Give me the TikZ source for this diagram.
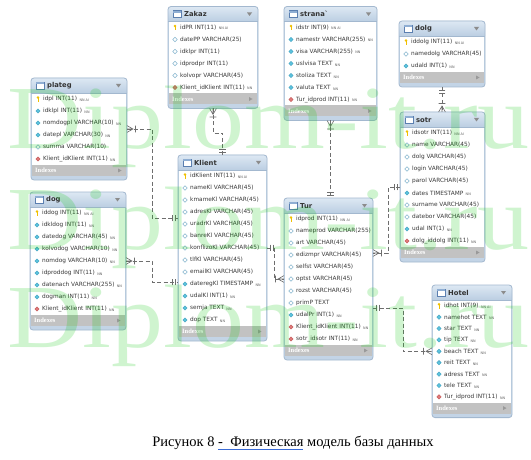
\documentclass[tikz,border=0pt]{standalone}
\usepackage{fontspec}
\setmainfont{Liberation Serif}
\newfontfamily\tabfont{DejaVu Sans}
\usetikzlibrary{calc}

\definecolor{tborder}{HTML}{A3B8CF}
\definecolor{ttop}{HTML}{DDE8F3}
\definecolor{tbot}{HTML}{BBCEE2}
\definecolor{tstrip}{HTML}{C3D4E6}
\definecolor{tidx}{HTML}{C2C2C2}
\definecolor{ttext}{HTML}{3A3A3A}
\definecolor{conncol}{HTML}{6E6E6E}
\definecolor{nnfill}{HTML}{5CC3DD}
\definecolor{nnline}{HTML}{3E9FBF}
\definecolor{colline}{HTML}{86B6CF}
\definecolor{fkfill}{HTML}{E07A7A}
\definecolor{fkline}{HTML}{C05050}
\definecolor{keycol}{HTML}{F0C000}
\definecolor{iconblue}{HTML}{5B7FB0}
\definecolor{iconhead}{HTML}{8FAED3}
\definecolor{wmark}{HTML}{00C800}
\definecolor{caplink}{HTML}{3A6BD6}

\newsavebox\capbox
\newcommand\capul[1]{\sbox\capbox{#1}\rlap{\color{caplink}\rule[-2.8pt]{\wd\capbox}{0.8pt}}\usebox\capbox}

\tikzset{
  rowtxt/.style={font=\tabfont\fontsize{5.8}{6}\selectfont, text=ttext, inner sep=0pt, anchor=west},
  sfx/.style={font=\tabfont\fontsize{3.4}{4}\selectfont, text=ttext!80, inner sep=0pt, anchor=base west, xshift=2pt, yshift=-0.6pt},
  ttl/.style={font=\tabfont\bfseries\fontsize{6.8}{7}\selectfont, text=black!80, inner sep=0pt, anchor=west},
  idxtxt/.style={font=\bfseries\fontsize{6.5}{7}\selectfont, text=white, inner sep=0pt, anchor=west},
  conn/.style={draw=conncol, line width=0.6pt, dash pattern=on 4pt off 2.5pt},
  wm/.style={font=\fontsize{90}{90}\selectfont, text=wmark, text opacity=0.19, inner sep=0pt, xscale=1.155, anchor=base west},
  capfont/.style={font=\fontsize{14.5}{16}\selectfont, text=black, inner sep=0pt},
  pics/crowf/.style={code={\draw[conncol, line width=0.6pt] (0,-3.4) -- (6,0) -- (0,3.4) (0,0) -- (6,0) (8.5,-3.4) -- (8.5,3.4);}},
  pics/onebar/.style={code={\draw[conncol, line width=0.6pt] (3,-3.4) -- (3,3.4) (6,-3.4) -- (6,3.4);}},
  pics/ikey/.style={code={\fill[keycol] (0,-1.5) circle (1.4); \draw[keycol, line width=0.9pt] (0,-1) -- (0,2.8);}},
  pics/icol/.style={code={\draw[colline, fill=white, line width=0.5pt] (-2.2,0) -- (0,-2.2) -- (2.2,0) -- (0,2.2) -- cycle;}},
  pics/inn/.style={code={\draw[nnline, fill=nnfill, line width=0.4pt] (-2.2,0) -- (0,-2.2) -- (2.2,0) -- (0,2.2) -- cycle;}},
  pics/ifk/.style={code={\draw[fkline, fill=fkfill, line width=0.4pt] (-2.2,0) -- (0,-2.2) -- (2.2,0) -- (0,2.2) -- cycle;}},
}

% name, left, top, width, nrows, rowheight, title
\newcommand\dbtable[7]{%
  \pgfmathsetmacro\dbH{30+#5*#6}%
  \pgfmathsetmacro\dbRE{#3+15+#5*#6}%
  \expandafter\xdef\csname dbrh@#1\endcsname{#6}%
  \node[draw=none, inner sep=0pt, outer sep=0pt, minimum width=#4, minimum height=\dbH, anchor=north west] (#1) at (#2,#3) {};
  \fill[tstrip, rounded corners=3pt] (#2,#3) rectangle ++(#4,\dbH);
  \shade[top color=ttop, bottom color=tbot] ({#2},{#3+15}) [rounded corners=3pt] -- (#2,#3) -- ({#2+#4},#3) [sharp corners] -- ({#2+#4},{#3+15}) -- cycle;
  \fill[white] ({#2+0.6},{#3+15}) rectangle ({#2+#4-0.6},\dbRE);
  \fill[tidx] ({#2+0.6},\dbRE) rectangle ({#2+#4-0.6},{\dbRE+11});
  \draw[tborder, line width=0.8pt, rounded corners=3pt] (#2,#3) rectangle ++(#4,\dbH);
  \draw[tborder, line width=0.5pt] ({#2},{#3+15}) -- ++(#4,0);
  \draw[iconblue, fill=white, line width=0.5pt] ({#2+5},{#3+4}) rectangle ++(8,7);
  \fill[iconhead] ({#2+5.3},{#3+4.3}) rectangle ++(7.4,2);
  \node[ttl] (#1-title) at ({#2+16},{#3+7.8}) {#7};
  \fill[black!45] ({#2+#4-11},{#3+6}) -- ++(5,0) -- ++(-2.5,3.5) -- cycle;
  \node[idxtxt] (#1-idx) at ({#2+4},{\dbRE+5.5}) {Indexes};
  \fill[black!40] ({#2+#4-9},{\dbRE+3.5}) -- ++(0,4) -- ++(3.5,-2) -- cycle;
  \coordinate (#1-r0) at ({#2},{#3+15});
}
% table, index, icon, text, suffix
\newcommand\dbrow[5]{%
  \pgfmathsetmacro\dbY{(#2-0.5)*\csname dbrh@#1\endcsname}%
  \coordinate (#1-i#2) at ($(#1-r0)+(7,\dbY)$);
  \pic at (#1-i#2) {#3};
  \node[rowtxt] (#1-t#2) at ($(#1-i#2)+(5,0)$) {#4};
  \node[sfx] (#1-s#2) at (#1-t#2.base east) {#5};
}

\begin{document}
\begin{tikzpicture}[x=1pt, y=-1pt]
\useasboundingbox (0,0) rectangle (531,460);
\fill[white] (0,0) rectangle (531,460);

% ---------- Zakaz
\dbtable{Zakaz}{168}{6.5}{90}{6}{12}{Zakaz}
\dbrow{Zakaz}{1}{ikey}{idPR INT(11)}{NN AI}
\dbrow{Zakaz}{2}{icol}{datePP VARCHAR(25)}{}
\dbrow{Zakaz}{3}{icol}{idklpr INT(11)}{}
\dbrow{Zakaz}{4}{icol}{idprodpr INT(11)}{}
\dbrow{Zakaz}{5}{icol}{kolvopr VARCHAR(45)}{}
\dbrow{Zakaz}{6}{ifk}{Klient\_idKlient INT(11)}{NN}

% ---------- strana
\dbtable{strana}{284}{6.5}{93}{7}{12}{strana`}
\dbrow{strana}{1}{ikey}{idstr INT(9)}{NN AI}
\dbrow{strana}{2}{inn}{namestr VARCHAR(255)}{NN}
\dbrow{strana}{3}{inn}{visa VARCHAR(255)}{NN}
\dbrow{strana}{4}{inn}{uslvisa TEXT}{NN}
\dbrow{strana}{5}{inn}{stoliza TEXT}{NN}
\dbrow{strana}{6}{inn}{valuta TEXT}{NN}
\dbrow{strana}{7}{ifk}{Tur\_idprod INT(11)}{NN}

% ---------- dolg
\dbtable{dolg}{399}{21}{86}{3}{12}{dolg}
\dbrow{dolg}{1}{ikey}{iddolg INT(11)}{NN AI}
\dbrow{dolg}{2}{icol}{namedolg VARCHAR(45)}{}
\dbrow{dolg}{3}{inn}{udald INT(1)}{NN}

% ---------- plateg
\dbtable{plateg}{31}{78}{96}{6}{12}{plateg}
\dbrow{plateg}{1}{ikey}{idpl INT(11)}{NN AI}
\dbrow{plateg}{2}{inn}{idklpl INT(11)}{NN}
\dbrow{plateg}{3}{inn}{nomdogpl VARCHAR(10)}{NN}
\dbrow{plateg}{4}{inn}{datepl VARCHAR(30)}{NN}
\dbrow{plateg}{5}{icol}{summa VARCHAR(10)}{}
\dbrow{plateg}{6}{ifk}{Klient\_idKlient INT(11)}{NN}

% ---------- Klient
\dbtable{Klient}{178}{155}{89}{13}{12}{Klient}
\dbrow{Klient}{1}{ikey}{idKlient INT(11)}{NN AI}
\dbrow{Klient}{2}{icol}{nameKl VARCHAR(45)}{}
\dbrow{Klient}{3}{icol}{kmameKl VARCHAR(45)}{}
\dbrow{Klient}{4}{icol}{adresKl VARCHAR(45)}{}
\dbrow{Klient}{5}{icol}{uradrKl VARCHAR(45)}{}
\dbrow{Klient}{6}{icol}{banreKl VARCHAR(45)}{}
\dbrow{Klient}{7}{icol}{konflizoKl VARCHAR(45)}{}
\dbrow{Klient}{8}{icol}{tlfKl VARCHAR(45)}{}
\dbrow{Klient}{9}{icol}{emailKl VARCHAR(45)}{}
\dbrow{Klient}{10}{inn}{dateregKl TIMESTAMP}{NN}
\dbrow{Klient}{11}{inn}{udalKl INT(1)}{NN}
\dbrow{Klient}{12}{inn}{semja TEXT}{NN}
\dbrow{Klient}{13}{inn}{dop TEXT}{NN}

% ---------- sotr
\dbtable{sotr}{400}{112}{85}{10}{12}{sotr}
\dbrow{sotr}{1}{ikey}{idsotr INT(11)}{NN AI}
\dbrow{sotr}{2}{icol}{name VARCHAR(45)}{}
\dbrow{sotr}{3}{icol}{dolg VARCHAR(45)}{}
\dbrow{sotr}{4}{icol}{login VARCHAR(45)}{}
\dbrow{sotr}{5}{icol}{parol VARCHAR(45)}{}
\dbrow{sotr}{6}{inn}{dates TIMESTAMP}{NN}
\dbrow{sotr}{7}{icol}{surname VARCHAR(45)}{}
\dbrow{sotr}{8}{icol}{datebor VARCHAR(45)}{}
\dbrow{sotr}{9}{inn}{udal INT(1)}{NN}
\dbrow{sotr}{10}{ifk}{dolg\_iddolg INT(11)}{NN}

% ---------- dog
\dbtable{dog}{30}{192}{96}{9}{12}{dog}
\dbrow{dog}{1}{ikey}{iddog INT(11)}{NN AI}
\dbrow{dog}{2}{inn}{idkldog INT(11)}{NN}
\dbrow{dog}{3}{inn}{datedog VARCHAR(45)}{NN}
\dbrow{dog}{4}{inn}{kolvodog VARCHAR(10)}{NN}
\dbrow{dog}{5}{inn}{nomdog VARCHAR(10)}{NN}
\dbrow{dog}{6}{inn}{idproddog INT(11)}{NN}
\dbrow{dog}{7}{inn}{datenach VARCHAR(255)}{NN}
\dbrow{dog}{8}{inn}{dogman INT(11)}{NN}
\dbrow{dog}{9}{ifk}{Klient\_idKlient INT(11)}{NN}

% ---------- Tur
\dbtable{Tur}{284}{198}{89}{11}{12}{Tur}
\dbrow{Tur}{1}{ikey}{idprod INT(11)}{NN AI}
\dbrow{Tur}{2}{icol}{nameprod VARCHAR(255)}{}
\dbrow{Tur}{3}{icol}{art VARCHAR(45)}{}
\dbrow{Tur}{4}{icol}{edizmpr VARCHAR(45)}{}
\dbrow{Tur}{5}{icol}{selfst VARCHAR(45)}{}
\dbrow{Tur}{6}{icol}{optst VARCHAR(45)}{}
\dbrow{Tur}{7}{icol}{rozst VARCHAR(45)}{}
\dbrow{Tur}{8}{icol}{primP TEXT}{}
\dbrow{Tur}{9}{inn}{udalPr INT(1)}{NN}
\dbrow{Tur}{10}{ifk}{Klient\_idKlient INT(11)}{NN}
\dbrow{Tur}{11}{ifk}{sotr\_idsotr INT(11)}{NN}

% ---------- Hotel
\dbtable{Hotel}{432}{285}{80}{9}{11.4}{Hotel}
\dbrow{Hotel}{1}{ikey}{idhot INT(9)}{NN AI}
\dbrow{Hotel}{2}{inn}{namehot TEXT}{NN}
\dbrow{Hotel}{3}{inn}{star TEXT}{NN}
\dbrow{Hotel}{4}{inn}{tip TEXT}{NN}
\dbrow{Hotel}{5}{inn}{beach TEXT}{NN}
\dbrow{Hotel}{6}{inn}{reit TEXT}{NN}
\dbrow{Hotel}{7}{inn}{adress TEXT}{NN}
\dbrow{Hotel}{8}{inn}{tele TEXT}{NN}
\dbrow{Hotel}{9}{ifk}{Tur\_idprod INT(11)}{NN}

% ---------- connectors
\draw[conn] (Zakaz.south) |- ($(Klient.north)+(0,-22)$) -- (Klient.north);
\pic[rotate=-90] at (Zakaz.south) {crowf};
\pic[rotate=90] at (Klient.north) {onebar};

\coordinate (kpl) at ($(Klient.north west)+(0,63)$);
\draw[conn] (plateg.east) -- ++(25,0) |- (kpl);
\pic at (plateg.east) {crowf};
\pic[rotate=180] at (kpl) {onebar};

\coordinate (kdg) at ($(Klient.north west)+(0,127)$);
\draw[conn] (dog.east) -- ++(26,0) |- (kdg);
\pic at (dog.east) {crowf};
\pic[rotate=180] at (kdg) {onebar};

\draw[conn] (Klient.east) -- ++(7,0) |- (Tur.west);
\pic at (Klient.east) {onebar};
\pic[rotate=180] at (Tur.west) {crowf};

\coordinate (tst) at (strana.south |- Tur.north);
\draw[conn] (strana.south) -- (tst);
\pic[rotate=-90] at (strana.south) {crowf};
\pic[rotate=90] at (tst) {onebar};

\coordinate (tso) at ($(Tur.north east)+(0,55)$);
\draw[conn] (sotr.west) -- ++(-12,0) |- (tso);
\pic[rotate=180] at (sotr.west) {onebar};
\pic at (tso) {crowf};

\coordinate (tho) at ($(Tur.north east)+(0,110)$);
\draw[conn] (tho) -- ++(30,0) |- (Hotel.west);
\pic at (tho) {onebar};
\pic[rotate=180] at (Hotel.west) {crowf};

\coordinate (dso) at (dolg.south |- sotr.north);
\draw[conn] (dolg.south) -- (dso);
\pic[rotate=-90] at (dolg.south) {onebar};
\pic[rotate=90] at (dso) {crowf};

% ---------- watermark
\node[wm] (wm1) at (7,149) {Diplom-it.ru};
\node[wm] (wm2) at (7,249) {Diplom-it.ru};
\node[wm] (wm3) at (7,347) {Diplom-it.ru};

% ---------- caption
\node[capfont] (cap) at (293,443) {Рисунок 8 \capul{-\ \ Физическая} модель базы данных};
\end{tikzpicture}
\end{document}
